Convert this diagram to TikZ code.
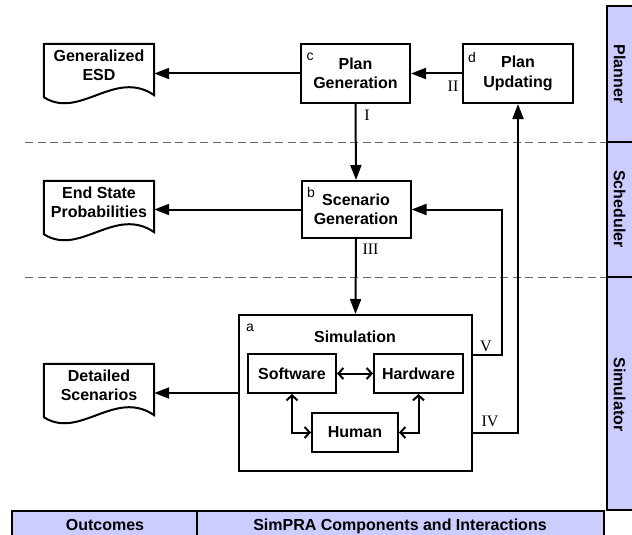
\documentclass[tikz,border=0pt]{standalone}
\usepackage{fontspec}
\setmainfont{Liberation Sans}
\newfontfamily\romfont{Liberation Serif}
\usetikzlibrary{arrows.meta,calc}
\definecolor{lav}{RGB}{204,204,255}
\definecolor{dashgray}{RGB}{105,105,105}
\tikzset{
 box/.style={draw, line width=2pt, inner sep=0pt, align=center, font=\bfseries\fontsize{16}{19.5}\selectfont},
 docnode/.style={inner sep=0pt, minimum width=110pt, minimum height=43pt, align=center, font=\bfseries\fontsize{16}{19.5}\selectfont},
 docline/.style={line width=2pt, line join=miter},
 arr/.style={line width=2pt, -{Triangle[length=15pt,width=11pt]}},
 dbl/.style={line width=2pt, {Straight Barb[length=5pt,width=11pt]}-{Straight Barb[length=5pt,width=11pt]}},
 tag/.style={font=\fontsize{14}{14}\selectfont, inner sep=0pt},
 rom/.style={font=\romfont\fontsize{16}{16}\selectfont, inner sep=0pt},
 sepline/.style={dashgray, line width=1pt, dash pattern=on 8pt off 4.5pt},
 bandline/.style={line width=2pt},
 bandtext/.style={font=\bfseries\fontsize{16}{16}\selectfont, inner sep=0pt}
}
\newcommand{\docoutline}[1]{%
 \draw[docline] (#1.north west) -- (#1.north east) -- ($(#1.south east)+(0,8)$)
  .. controls ($(#1.south west)+(71,-19)$) and ($(#1.south west)+(36,33)$) .. ($(#1.south west)+(0,10)$) -- cycle;}

\begin{document}
\begin{tikzpicture}[x=1pt,y=-1pt]
\useasboundingbox (0,0) rectangle (632,535);
% separators
\draw[sepline] (25,142) -- (607,142);
\draw[sepline] (25,277) -- (607,277);
% right band
\fill[lav] (607,6) rectangle (640,510);
\draw[bandline] (640,6) -- (607,6) -- (607,510) -- (640,510);
\draw[bandline] (607,142) -- (640,142);
\draw[bandline] (607,277) -- (640,277);
\node[bandtext, rotate=-90] (planner) at (619.5,74) {Planner};
\node[bandtext, rotate=-90] (sched) at (619.5,209) {Scheduler};
\node[bandtext, rotate=-90] (simr) at (619.5,394.5) {Simulator};
% bottom band
\fill[lav] (12,511) rectangle (604,545);
\draw[bandline] (12,545) -- (12,511) -- (604,511) -- (604,545);
\draw[bandline] (197,511) -- (197,545);
\node[bandtext, anchor=base] (outc) at (105,530) {Outcomes};
\node[bandtext, anchor=base] (comp) at (400,530) {SimPRA Components and Interactions};

% documents
\node[docnode] (esd) at (99,65.5) {Generalized\\ESD};
\docoutline{esd}
\node[docnode] (esp) at (99,202.5) {End State\\Probabilities};
\docoutline{esp}
\node[docnode] (ds) at (99,385.5) {Detailed\\Scenarios};
\docoutline{ds}

% process boxes
\node[box, minimum width=109pt, minimum height=59pt] (pg) at (355.5,73.5) {Plan\\Generation};
\node[box, minimum width=110pt, minimum height=59pt] (pu) at (518,73.5) {Plan\\Updating};
\node[box, minimum width=109pt, minimum height=57pt] (sg) at (356,209.5) {Scenario\\Generation};
\node[box, minimum width=233pt, minimum height=156pt] (sim) at (355.5,393) {};
\node[box, minimum width=88pt, minimum height=39pt] (sw) at (292,373.5) {Software};
\node[box, minimum width=89pt, minimum height=39pt] (hw) at (418.5,373.5) {Hardware};
\node[box, minimum width=86pt, minimum height=39pt] (hu) at (355,432.5) {Human};
\node[font=\bfseries\fontsize{16}{16}\selectfont, inner sep=0pt] (simt) at (355,337) {Simulation};

% letter tags
\node[tag] (lc) at (310,56.5) {c};
\node[tag] (ld) at (472,57) {d};
\node[tag] (lb) at (311,192) {b};
\node[tag] (la) at (250,328) {a};

% connectors
\draw[arr] (pg.west) -- (pg.west -| esd.east);
\draw[arr] (pu.west) -- (pg.east);
\draw[arr] (pg.south) -- (sg.north);
\draw[arr] (sg.west) -- (sg.west -| esp.east);
\draw[arr] (sg.south) -- (sim.north);
\draw[arr] (sim.west) -- (sim.west -| ds.east);
\coordinate (vr) at (502,355);
\draw[arr] (vr -| sim.east) -- (vr) |- (sg.east);
\coordinate (ivr) at (518,433);
\draw[arr] (ivr -| sim.east) -- (ivr) -- (pu.south);
\draw[dbl] (sw.east) -- (hw.west);
\draw[dbl] (sw.south) |- (hu.west);
\draw[dbl] (hw.south) |- (hu.east);

% roman labels
\node[rom] (r1) at (367,115) {I};
\node[rom] (r2) at (453,86.5) {II};
\node[rom] (r3) at (370.5,249) {III};
\node[rom] (r5) at (486,346) {V};
\node[rom] (r4) at (490,421) {IV};
\end{tikzpicture}
\end{document}
